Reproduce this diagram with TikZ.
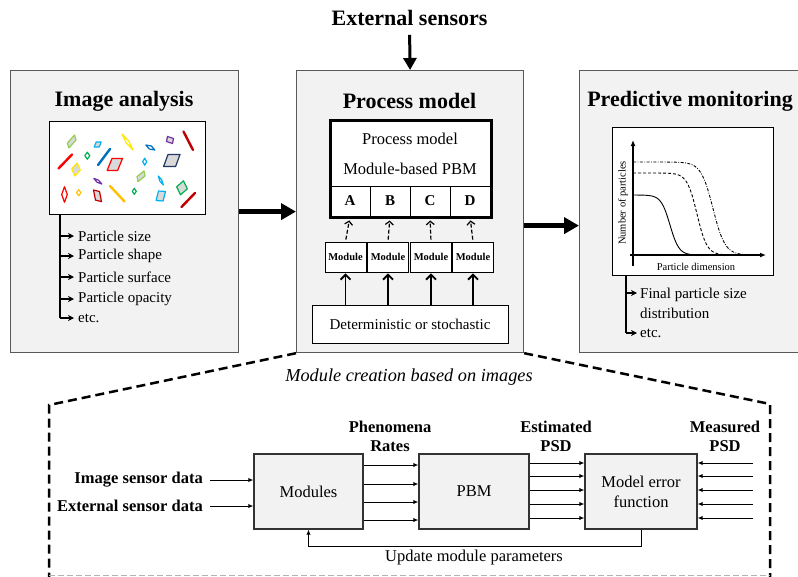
\documentclass[tikz,border=0pt]{standalone}
\usepackage{fontspec}
\setmainfont{Liberation Serif}
\usetikzlibrary{arrows.meta,calc}

\definecolor{panelfill}{HTML}{F2F2F2}
\definecolor{panelline}{HTML}{595959}
\definecolor{ptfill}{HTML}{D9D9D9}
\definecolor{cYgreen}{HTML}{92D050}
\definecolor{cLblue}{HTML}{00B0F0}
\definecolor{cYellow}{HTML}{FFE800}
\definecolor{cPurple}{HTML}{7030A0}
\definecolor{cDred}{HTML}{C00000}
\definecolor{cRed}{HTML}{FF0000}
\definecolor{cGreen}{HTML}{00B050}
\definecolor{cBlue}{HTML}{0070C0}
\definecolor{cNavy}{HTML}{203864}
\definecolor{cOrange}{HTML}{FFC000}

% particle outline: centre #2, half diagonals #3 and #4
\newcommand\ptcl[5]{\draw[#1, line width=1.2pt, line join=round, fill=#5]
  ($(#2)+(#3)$) -- ($(#2)+(#4)$) -- ($(#2)-(#3)$) -- ($(#2)-(#4)$) -- cycle;}
% needle-like particle
\newcommand\ptrod[3]{\draw[#1, line width=2.4pt, line cap=round] (#2) -- (#3);}

\tikzset{
  panel/.style={draw=panelline, fill=panelfill, line width=1.2pt, inner sep=0pt, anchor=north west},
  ttl/.style={font=\fontsize{22}{26}\selectfont\bfseries, inner sep=1pt},
  txt/.style={font=\fontsize{15}{20}\selectfont, inner sep=2pt},
  picbox/.style={draw=black, fill=white, line width=1.3pt, inner sep=0pt, anchor=north west},
  cell/.style={draw=black, line width=0.9pt, minimum width=40pt, minimum height=30pt, inner sep=0pt,
    font=\fontsize{15}{18}\selectfont\bfseries},
  modbox/.style={draw=black, fill=white, line width=0.9pt, minimum width=41pt, minimum height=30pt,
    inner sep=0pt, font=\fontsize{10.5}{12}\selectfont\bfseries},
  branch/.style={line width=1.5pt},
  brtip/.style={line width=1.2pt, -{Stealth[length=6pt,width=6pt]}, shorten >=2pt},
  bigarr/.style={line width=5pt, -{Triangle[length=15pt,width=16pt]}},
  extarr/.style={line width=3pt, -{Triangle[length=12pt,width=13pt]}, shorten <=8pt},
  modarr/.style={line width=1.8pt, -{Straight Barb[length=5pt,width=10pt]}, shorten >=1pt},
  dasharr/.style={line width=1.2pt, dash pattern=on 4pt off 2pt, -{Straight Barb[length=3.5pt,width=8pt]},
    shorten <=2pt, shorten >=4pt},
  region/.style={line width=2.5pt, dash pattern=on 9pt off 5pt},
  regionbase/.style={line width=0.8pt, draw=black!30, dash pattern=on 6pt off 3pt},
  bbox/.style={draw=black!80, fill=panelfill, line width=1.4pt, inner sep=2pt,
    font=\fontsize{16.5}{20}\selectfont, align=center},
  blab/.style={font=\fontsize{16.5}{19}\selectfont\bfseries, inner sep=2pt, align=center},
  sarr/.style={line width=1pt, -{Latex[length=5pt,width=4.5pt]}},
  curve/.style={line width=0.9pt},
}

\begin{document}
\begin{tikzpicture}[x=1pt,y=-1pt]
\clip (0,0) rectangle (798,576);
\fill[white] (0,0) rectangle (798,576);

% ---------- the three panels ----------
\node[panel, minimum width=228pt, minimum height=282pt] (imgpanel) at (10,70) {};
\node[panel, minimum width=227pt, minimum height=282pt] (pmpanel) at (296,70) {};
\node[panel, minimum width=240pt, minimum height=282pt] (pdpanel) at (579,70) {};

\node[ttl] (ext) at (409.5,18) {External sensors};
\node[ttl] (imgttl) at (124,101) {Image analysis};
\node[ttl] (pmttl) at (409.5,101) {Process model};
\node[ttl] (pdttl) at (690,101) {Predictive monitoring};

\draw[extarr] (ext.south) -- (pmpanel.north);
\draw[bigarr] (imgpanel.east) -- (pmpanel.west);
\draw[bigarr] ([yshift=-14pt]pmpanel.east) -- ([yshift=-14pt]pdpanel.west);

% ---------- image analysis ----------
\node[picbox, minimum width=156pt, minimum height=93pt] (imgbox) at (49,121) {};

\ptcl{cYgreen}{71.7,141.5}{2.8,-6.5}{4.3,-1.5}{ptfill}
\ptcl{cLblue}{97.7,144.5}{3.5,-2.5}{1.5,2.5}{ptfill}
\ptcl{cYellow}{127.5,142}{5.5,8}{1.3,-0.9}{white}
\ptcl{cPurple}{170,140}{-2.5,-3.5}{3.5,-1.5}{ptfill}
\ptrod{cDred}{183.5,131.5}{193,150}
\ptrod{cRed}{58.5,168.5}{72,154.5}
\ptcl{cGreen}{87.3,155.7}{0,-3.5}{2.5,0}{white}
\ptrod{cBlue}{98,165}{110,149}
\ptcl{cRed}{114.8,164.5}{7.7,-6}{-2.8,-6}{ptfill}
\ptcl{cBlue}{150.3,147.5}{4.5,2.5}{-1,1.5}{white}
\ptcl{cLblue}{144.7,161.7}{0,-3.5}{2,0}{white}
\ptcl{cNavy}{171.8,160.5}{8.2,-6}{-3.8,-6}{ptfill}
\ptcl{cYellow}{76,169.5}{1,-6.5}{4.3,0.5}{ptfill}
\ptcl{cYgreen}{141,176.3}{3,-5.3}{4,-0.3}{ptfill}
\ptcl{cPurple}{97.8,181.2}{4,2.8}{-0.8,1}{white}
\ptcl{cLblue}{160.8,180.5}{2.5,4.5}{-1,0.5}{white}
\ptcl{cRed}{64.5,194.5}{0,-7.8}{2.8,0}{white}
\ptcl{cOrange}{78.7,192.7}{0,-3}{2.2,0}{white}
\ptcl{cDred}{97.5,195.8}{2,-4.3}{-4,-5.8}{ptfill}
\ptrod{cOrange}{110,186}{124.5,201.5}
\ptcl{cGreen}{134.3,191.3}{0,-3}{2,0}{white}
\ptcl{cLblue}{160.8,196}{4.7,-4.5}{-2.3,-5}{ptfill}
\ptcl{cGreen}{182,187.8}{1.5,-7}{5.3,1}{ptfill}
\ptrod{cDred}{181.5,207}{195,193}

\coordinate (ibend) at (60,318);
\draw[branch] (imgbox.south -| ibend) -- (ibend);
\foreach \n/\y/\t in {psize/236/Particle size, pshape/256/Particle shape,
    psurf/277/Particle surface, popac/299/Particle opacity, petc/318/etc.}{
  \node[txt, anchor=west] (\n) at (76,\y) {\t};
  \draw[brtip] (ibend |- \n.west) -- (\n.west);
}

% ---------- process model ----------
\node[picbox, line width=2pt, minimum width=160pt, minimum height=96pt] (pmbox) at (330,120) {};
\node[txt, font=\fontsize{16.5}{20}\selectfont] (pmt1) at (410,139) {Process model};
\node[txt, font=\fontsize{16.5}{20}\selectfont] (pmt2) at (410,169) {Module-based PBM};
\node[cell] (cA) at (350,201) {A};
\node[cell] (cB) at (390,201) {B};
\node[cell] (cC) at (430,201) {C};
\node[cell] (cD) at (470,201) {D};
\draw[line width=2pt] (pmbox.north west) rectangle (pmbox.south east);

\node[modbox] (m1) at (345.5,257) {Module};
\node[modbox] (m2) at (388,257) {Module};
\node[modbox] (m3) at (431,257) {Module};
\node[modbox] (m4) at (473,257) {Module};

\node[picbox, line width=0.9pt, minimum width=196pt, minimum height=38pt, anchor=center,
  font=\fontsize{15}{18}\selectfont] (det) at (410,324) {Deterministic or stochastic};

\foreach \m in {1,...,4}{
  \draw[modarr] (det.north -| m\m) -- (m\m.south);
}
\draw[dasharr] (m1.north) -- (cA.south);
\draw[dasharr] (m2.north) -- (cB.south);
\draw[dasharr] (m3.north) -- (cC.south);
\draw[dasharr] (m4.north) -- (cD.south);

% ---------- predictive monitoring ----------
\node[picbox, minimum width=161pt, minimum height=148pt] (plot) at (612,127) {};
\draw[line width=1.3pt, -{Latex[length=6pt,width=5pt]}] (633,266) -- (633,140);
\draw[line width=1.3pt, -{Latex[length=6pt,width=5pt]}] (630,255) -- (766,255);
\draw[curve] plot[domain=633:690, samples=60] (\x, {255-60/(1+exp((\x-670)/4.5))});
\draw[curve, dash pattern=on 3pt off 2pt] plot[domain=633:730, samples=80]
  (\x, {255-82/(1+exp((\x-697)/5))});
\draw[curve, dash pattern=on 3pt off 1.5pt on 0.8pt off 1.5pt] plot[domain=633:758, samples=90]
  (\x, {255-93/(1+exp((\x-713)/6))});
\node[rotate=90, font=\fontsize{10.5}{12}\selectfont, inner sep=0pt] (ylab) at (623,203) {Number of particles};
\node[font=\fontsize{10.5}{12}\selectfont, inner sep=0pt] (xlab) at (696,267) {Particle dimension};

\coordinate (pbend) at (626,333);
\draw[branch] (plot.south -| pbend) -- (pbend);
\node[txt, anchor=west, align=left] (fin) at (638,303) {Final particle size\\distribution};
\coordinate (finrow) at ([yshift=10pt]fin.west);
\draw[brtip, shorten >=1pt] (pbend |- finrow) -- (finrow);
\node[txt, anchor=west] (pdetc) at (638,333) {etc.};
\draw[brtip, shorten >=1pt] (pbend) -- (pdetc.west);

% ---------- module creation region ----------
\coordinate (dl) at (49,405);
\coordinate (dr) at (770,404);
\coordinate (dlb) at (49,580);
\coordinate (drb) at (770,580);
\coordinate (bl) at (49,575);
\coordinate (br) at (770,575);
\draw[region] (pmpanel.south west) -- (dl) -- (dlb);
\draw[region] (pmpanel.south east) -- (dr) -- (drb);
\draw[regionbase] (bl) -- (br);

\node[font=\fontsize{18.3}{21}\selectfont\itshape] (cap) at (409,377) {Module creation based on images};

\node[bbox, minimum width=109pt, minimum height=75pt] (mods) at (308.5,491.5) {Modules};
\node[bbox, minimum width=110pt, minimum height=75pt] (pbm) at (474,491.5) {PBM};
\node[bbox, minimum width=112pt, minimum height=75pt] (mef) at (641,491.5) {Model error\\function};

\node[blab, anchor=east] (isd) at (205,480) {Image sensor data};
\node[blab, anchor=east] (esd) at (205,506) {External sensor data};
\draw[sarr, shorten <=5pt] (isd.east) -- (mods.west |- isd.east);
\draw[sarr, shorten <=5pt] (esd.east) -- (mods.west |- esd.east);

\node[blab] (phen) at (390,436.5) {Phenomena\\Rates};
\node[blab] (est) at (556,436.5) {Estimated\\PSD};
\node[blab] (meas) at (725,436.5) {Measured\\PSD};

\foreach \d in {26.5,7.5,-10.5,-28.5}{
  \draw[sarr] ([yshift=\d pt]mods.east) -- ([yshift=\d pt]pbm.west);
}
\coordinate (measin) at (753,491.5);
\foreach \d in {28.5,15.5,1.5,-12.5,-26.5}{
  \draw[sarr] ([yshift=\d pt]pbm.east) -- ([yshift=\d pt]mef.west);
  \draw[sarr] ([yshift=\d pt]measin) -- ([yshift=\d pt]mef.east);
}

\draw[sarr] (mef.south) -- ++(0,17) -| (mods.south);
\node[font=\fontsize{16.5}{20}\selectfont] (upd) at (474,558) {Update module parameters};

\end{tikzpicture}
\end{document}
